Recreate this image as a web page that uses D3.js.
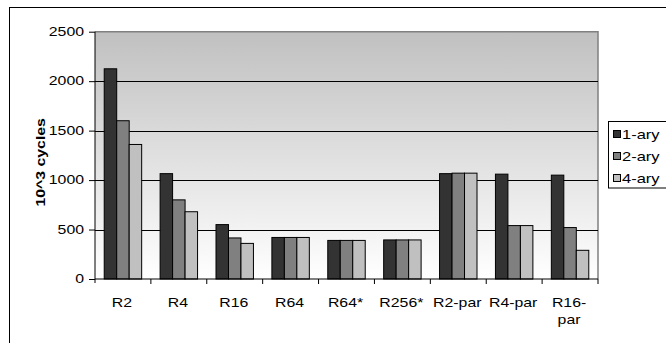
<!DOCTYPE html>
<html>
  <head>
    <title>10^3 cycles</title>
    <script src="https://d3js.org/d3.v7.min.js"></script>
    <style>
      body { margin: 0; background: #fff; }
      text { font-family: "Liberation Sans", Arial, sans-serif; fill: #000; }
    </style>
  </head>
  <body>
    <svg width="666" height="343"></svg>
    <script>
      const categories = ["R2", "R4", "R16", "R64", "R64*", "R256*", "R2-par", "R4-par", "R16-par"];
      const seriesNames = ["1-ary", "2-ary", "4-ary"];
      const ary1 = [2125, 1065, 550, 420, 390, 395, 1065, 1060, 1050];
      const ary2 = [1600, 800, 415, 420, 390, 395, 1070, 540, 520];
      const ary4 = [1360, 680, 360, 420, 390, 395, 1070, 540, 290];
      const yTicks = [0, 500, 1000, 1500, 2000, 2500];
      const colors = ["#333333", "#808080", "#c0c0c0"];

      const seriesValues = [ary1, ary2, ary4];
      const data = categories.map((c, i) => ({
        cat: c,
        vals: seriesNames.map((s, j) => ({ key: s, value: seriesValues[j][i] }))
      }));

      const svg = d3.select("svg");
      const plotL = 95, plotR = 598, plotT = 31.7, plotB = 279;
      const sx = 1.32; // the source font is drawn wide

      // text with a horizontal stretch around its anchor point
      function label(parent, x, y, str, anchor, size, rot) {
        return parent.append("text")
          .attr("transform", `translate(${x},${y})${rot ? " rotate(-90)" : ""} scale(${sx},1)`)
          .attr("text-anchor", anchor)
          .attr("font-size", size)
          .text(str);
      }

      // outer frame (right and bottom edges fall off the canvas)
      svg.append("rect")
        .attr("x", 9.5).attr("y", 7.5)
        .attr("width", 700).attr("height", 400)
        .attr("fill", "#fff").attr("stroke", "#000");

      const grad = svg.append("defs").append("linearGradient")
        .attr("id", "bg").attr("x1", 0).attr("y1", 0).attr("x2", 0).attr("y2", 1);
      grad.append("stop").attr("offset", "0%").attr("stop-color", "#c0c0c0");
      grad.append("stop").attr("offset", "100%").attr("stop-color", "#ffffff");

      const x0 = d3.scaleBand().domain(categories).range([plotL, plotR]).padding(0);
      const bw = x0.bandwidth();
      const x1 = d3.scaleBand().domain(seriesNames).range([bw * 0.165, bw * 0.835]).padding(0);
      const y = d3.scaleLinear().domain([0, 2500]).range([plotB, plotT]);

      svg.append("rect")
        .attr("x", plotL).attr("y", plotT)
        .attr("width", plotR - plotL).attr("height", plotB - plotT)
        .attr("fill", "url(#bg)");

      // plot border top/right
      svg.append("path")
        .attr("d", `M${plotL},${plotT}H${plotR}V${plotB}`)
        .attr("fill", "none").attr("stroke", "#808080").attr("stroke-width", 1.5);

      // gridlines
      svg.append("g").selectAll("line")
        .data(yTicks.filter(t => t > 0 && t < 2500))
        .join("line")
          .attr("x1", plotL).attr("x2", plotR)
          .attr("y1", d => Math.round(y(d)) + 0.5).attr("y2", d => Math.round(y(d)) + 0.5)
          .attr("stroke", "#000");

      // bars
      const g = svg.append("g").selectAll("g")
        .data(data).join("g")
          .attr("transform", d => `translate(${x0(d.cat)},0)`);
      g.selectAll("rect")
        .data(d => d.vals).join("rect")
          .attr("x", d => x1(d.key))
          .attr("y", d => y(d.value))
          .attr("width", x1.bandwidth())
          .attr("height", d => plotB - y(d.value))
          .attr("fill", (d, i) => colors[i])
          .attr("stroke", "#000").attr("stroke-width", 1);

      // y axis
      const yAxis = svg.append("g")
        .attr("transform", `translate(${plotL},0)`)
        .call(d3.axisLeft(y).tickValues(yTicks).tickSize(6).tickFormat(""));
      yAxis.select(".domain").remove();
      yAxis.selectAll("line").attr("stroke", "#000");
      const yLab = svg.append("g");
      yTicks.forEach(t => label(yLab, 84, y(t) + 4.3, d3.format("d")(t), "end", 12));
      svg.append("line")
        .attr("x1", plotL).attr("x2", plotL).attr("y1", plotT).attr("y2", plotB + 4)
        .attr("stroke", "#000");

      // x axis
      svg.append("line")
        .attr("x1", plotL).attr("x2", plotR).attr("y1", plotB).attr("y2", plotB)
        .attr("stroke", "#000");
      svg.append("g").selectAll("line")
        .data(categories)
        .join("line")
          .attr("x1", d => x0(d) + bw).attr("x2", d => x0(d) + bw)
          .attr("y1", plotB).attr("y2", plotB + 5)
          .attr("stroke", "#000");
      const xLab = svg.append("g");
      categories.forEach(c => {
        const parts = c === "R16-par" ? ["R16-", "par"] : [c];
        parts.forEach((p, i) => label(xLab, x0(c) + bw / 2 - 1, 306.5 + i * 17, p, "middle", 12));
      });

      // y title
      label(svg, 44.5, (plotT + plotB) / 2 + 7, "10^3 cycles", "middle", 12, true)
        .attr("font-weight", "bold");

      // legend
      const lg = svg.append("g");
      lg.append("rect")
        .attr("x", 608.5).attr("y", 121.5).attr("width", 60).attr("height", 66.5)
        .attr("fill", "#fff").attr("stroke", "#000");
      seriesNames.forEach((s, i) => {
        const cy = 134 + i * 22;
        lg.append("rect")
          .attr("x", 613.5).attr("y", cy - 3.5).attr("width", 7).attr("height", 7)
          .attr("fill", colors[i]).attr("stroke", "#000");
        label(lg, 622, cy + 4.5, s, "start", 12.5);
      });
    </script>
  </body>
</html>
